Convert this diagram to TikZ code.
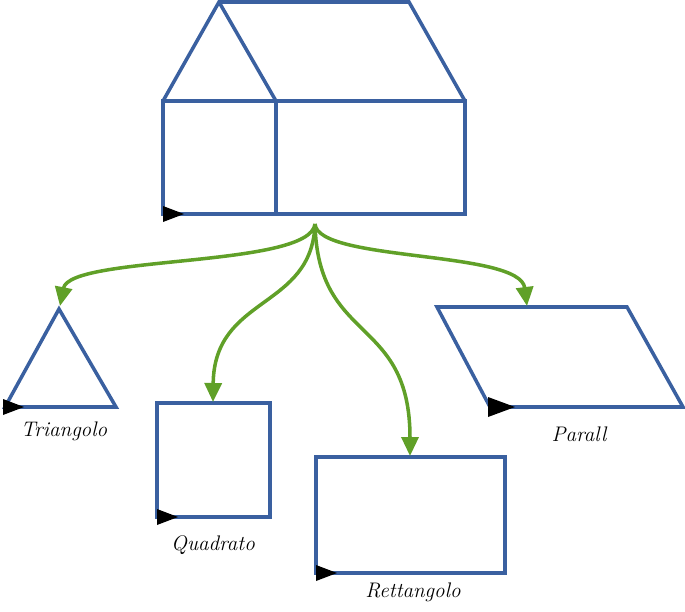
\documentclass[tikz,border=0pt]{standalone}
\usepackage{tikz}
\usetikzlibrary{arrows.meta}
\definecolor{shapeblue}{RGB}{58,96,160}
\definecolor{arrgreen}{RGB}{96,160,40}

\begin{document}
\begin{tikzpicture}[x=0.02cm, y=-0.02cm,
    shp/.style={draw=shapeblue, line width=2pt, line join=miter},
    arr/.style={draw=arrgreen, line width=2pt,
      -{Triangle[length=0.38cm, width=0.34cm]}},
    lbl/.style={font=\itshape\fontsize{12}{14}\selectfont, text=black},
    tipmark/.style={fill=black}]
  \useasboundingbox (0,0) rectangle (685,611);
  % --- House ---
  \draw[shp] (163,101) -- (219,2) -- (276,101);
  \draw[shp] (219,2) -- (409,2) -- (465,101);
  \draw[shp] (163,101) rectangle (465,214);
  \draw[shp] (276,101) -- (276,214);
  \fill[tipmark] (163,206) -- (184,214) -- (163,222) -- cycle;
  \coordinate (src) at (315,224);
  % --- Shapes ---
  \draw[shp] (5,407) -- (59,309) -- (116,407) -- cycle;
  \fill[tipmark] (3,399) -- (24,407) -- (3,415) -- cycle;
  \coordinate (tri) at (60,306);
  \draw[shp] (157,403) rectangle (270,517);
  \fill[tipmark] (157,509) -- (178,517) -- (157,525) -- cycle;
  \coordinate (sq) at (213,402);
  \draw[shp] (316,457) rectangle (505,573);
  \fill[tipmark] (316,565) -- (337,573) -- (316,581) -- cycle;
  \coordinate (ret) at (410,456);
  \draw[shp] (437,307) -- (627,307) -- (683,407) -- (490,407) -- cycle;
  \fill[tipmark] (488,397) -- (515,407) -- (488,417) -- cycle;
  \coordinate (par) at (527,306);
  % --- Labels ---
  \node[lbl] (ltri) at (64,431) {Triangolo};
  \node[lbl] (lsq)  at (213,545) {Quadrato};
  \node[lbl] (lret) at (413,592) {Rettangolo};
  \node[lbl] (lpar) at (579,434) {Parall};
  % --- Arrows ---
  \draw[arr] (src) .. controls (310,268) and (70,255) .. (tri);
  \draw[arr] (src) .. controls (312,310) and (214,295) .. (sq);
  \draw[arr] (src) .. controls (318,345) and (410,315) .. (ret);
  \draw[arr] (src) .. controls (318,262) and (520,250) .. (par);
\end{tikzpicture}
\end{document}
